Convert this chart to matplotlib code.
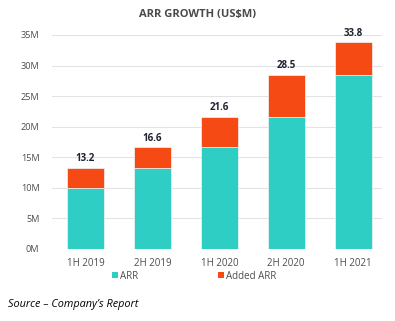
import matplotlib
matplotlib.use("Agg")
import matplotlib.pyplot as plt
from matplotlib.patches import Patch

categories = ["1H 2019", "2H 2019", "1H 2020", "2H 2020", "1H 2021"]
arr = [10.0, 13.2, 16.6, 21.6, 28.5]
totals = [13.2, 16.6, 21.6, 28.5, 33.8]
added = [t - a for t, a in zip(totals, arr)]
yticks = [0, 5, 10, 15, 20, 25, 30, 35]
ytick_labels = ["0M", "5M", "10M", "15M", "20M", "25M", "30M", "35M"]

TEAL = "#2FCEC4"
ORANGE = "#F64A14"
GREY = "#4d4d4d"

plt.rcParams['font.family'] = ['Open Sans', 'DejaVu Sans']

fig = plt.figure(figsize=(3.95, 3.21), dpi=100)
ax = fig.add_axes([0.1316, 0.225, 0.8354, 0.666])

x = list(range(len(categories)))
ax.bar(x, arr, width=0.55, color=TEAL, edgecolor="#f4f4f4", linewidth=0.5, zorder=3)
ax.bar(x, added, bottom=arr, width=0.55, color=ORANGE, edgecolor="#f4f4f4", linewidth=0.5, zorder=3)

for xi, t in zip(x, totals):
    ax.text(xi, t + 0.6, f"{t:.1f}", ha="center", va="bottom", fontsize=7,
            fontweight="bold", color="#1f2433")

ax.set_xlim(-0.5, 4.43)
ax.set_ylim(0, 35)
ax.set_yticks(yticks)
ax.set_yticklabels(ytick_labels, fontsize=6.6, color=GREY)
ax.set_xticks(x)
ax.set_xticklabels(categories, fontsize=7, color=GREY)
ax.tick_params(axis="x", length=0, pad=7)
ax.tick_params(axis="y", length=0, pad=9)
ax.grid(axis="y", color="#e3e3e3", linewidth=0.8, zorder=0)
for s in ax.spines.values():
    s.set_visible(False)

fig.text(0.5, 0.955, "ARR GROWTH (US$M)", ha="center", va="center", fontsize=8,
         fontweight="bold", color="#4a4a4a")

handles = [Patch(facecolor=TEAL, edgecolor="none"), Patch(facecolor=ORANGE, edgecolor="none")]
fig.legend(handles, ["ARR", "Added ARR"], loc="center", bbox_to_anchor=(0.492, 0.14),
           ncol=2, frameon=False, fontsize=7, handlelength=0.65, handleheight=0.65,
           handletextpad=0.2, columnspacing=8.2, labelcolor=GREY)

fig.text(0.02, 0.05, "Source \u2013 Company\u2019s Report", ha="left", va="center",
         fontsize=7.8, fontstyle="italic", color="black")

fig.savefig("out.png", dpi=100)
